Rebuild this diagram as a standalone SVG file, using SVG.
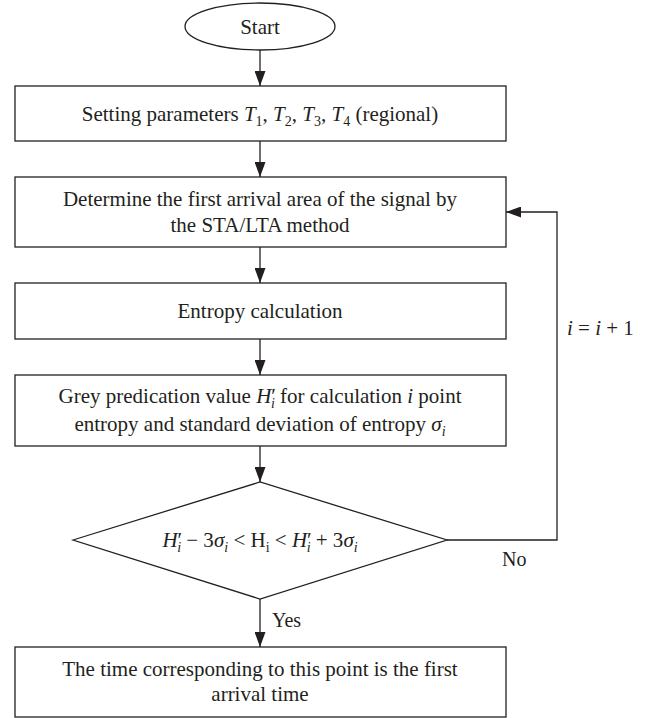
<svg xmlns="http://www.w3.org/2000/svg" width="648" height="718" viewBox="0 0 648 718">
<style>
  .shape { fill: #ffffff; stroke: #231f20; stroke-width: 1.3; }
  .conn { fill: none; stroke: #231f20; stroke-width: 1.3; }
  text { font-family: "Liberation Serif", "Times New Roman", serif; font-size: 21px; fill: #231f20; }
  .c { text-anchor: middle; }
  .it { font-style: italic; }
  .sub { font-size: 14px; }
  .lbl { font-size: 20px; }
</style>
<defs>
  <marker id="arrow" markerUnits="userSpaceOnUse" markerWidth="15" markerHeight="11" refX="15" refY="5.5" orient="auto">
    <path d="M0,0 L15,5.5 L0,11 Z" fill="#231f20"/>
  </marker>
</defs>
<rect width="648" height="718" fill="#ffffff"/>

<g id="connectors">
  <line class="conn" x1="260" y1="50" x2="260" y2="86" marker-end="url(#arrow)"/>
  <line class="conn" x1="260" y1="141" x2="260" y2="177" marker-end="url(#arrow)"/>
  <line class="conn" x1="260" y1="247" x2="260" y2="283" marker-end="url(#arrow)"/>
  <line class="conn" x1="260" y1="339" x2="260" y2="375" marker-end="url(#arrow)"/>
  <line class="conn" x1="260" y1="446" x2="260" y2="482" marker-end="url(#arrow)"/>
  <line class="conn" x1="260" y1="599" x2="260" y2="647" marker-end="url(#arrow)"/>
  <polyline class="conn" points="447,540 557,540 557,212 506,212" marker-end="url(#arrow)"/>
  <text class="lbl" x="502" y="566">No</text>
  <text class="lbl" x="272" y="627">Yes</text>
  <text x="567" y="335"><tspan class="it">i</tspan> = <tspan class="it">i</tspan> + 1</text>
</g>

<g id="start">
  <ellipse class="shape" cx="260" cy="26.5" rx="75" ry="23.5"/>
  <text class="c" x="260" y="33.5">Start</text>
</g>

<g id="set-params">
  <rect class="shape" x="15" y="86" width="491" height="55"/>
  <text class="c" x="260" y="120.5">Setting parameters <tspan class="it">T</tspan><tspan class="sub" dy="5">1</tspan><tspan dy="-5">, </tspan><tspan class="it">T</tspan><tspan class="sub" dy="5">2</tspan><tspan dy="-5">, </tspan><tspan class="it">T</tspan><tspan class="sub" dy="5">3</tspan><tspan dy="-5">, </tspan><tspan class="it">T</tspan><tspan class="sub" dy="5">4</tspan><tspan dy="-5"> (regional)</tspan></text>
</g>

<g id="sta-lta">
  <rect class="shape" x="15" y="177" width="491" height="70"/>
  <text class="c" x="260" y="206">Determine the first arrival area of the signal by</text>
  <text class="c" x="260" y="232">the STA/LTA method</text>
</g>

<g id="entropy">
  <rect class="shape" x="15" y="283" width="491" height="56"/>
  <text class="c" x="260" y="318">Entropy calculation</text>
</g>

<g id="grey">
  <rect class="shape" x="15" y="375" width="491" height="71"/>
  <text class="c" x="260" y="403">Grey predication value <tspan class="it">H</tspan><tspan>′</tspan><tspan class="it sub" dx="-5" dy="5">i</tspan><tspan dy="-5"> for calculation </tspan><tspan class="it">i</tspan> point</text>
  <text class="c" x="260" y="431">entropy and standard deviation of entropy <tspan class="it">σ</tspan><tspan class="it sub" dy="5">i</tspan></text>
</g>

<g id="decision">
  <polygon class="shape" points="73,540 260,482 447,540 260,599"/>
  <text class="c" x="260" y="547"><tspan class="it">H</tspan><tspan>′</tspan><tspan class="it sub" dx="-5" dy="5">i</tspan><tspan dy="-5"> − 3</tspan><tspan class="it">σ</tspan><tspan class="it sub" dy="5">i</tspan><tspan dy="-5"> &lt; H</tspan><tspan class="sub" dy="5">i</tspan><tspan dy="-5"> &lt; </tspan><tspan class="it">H</tspan><tspan>′</tspan><tspan class="it sub" dx="-5" dy="5">i</tspan><tspan dy="-5"> + 3</tspan><tspan class="it">σ</tspan><tspan class="it sub" dy="5">i</tspan></text>
</g>

<g id="result">
  <rect class="shape" x="15" y="647" width="491" height="70"/>
  <text class="c" x="260" y="676">The time corresponding to this point is the first</text>
  <text class="c" x="260" y="701">arrival time</text>
</g>
</svg>
